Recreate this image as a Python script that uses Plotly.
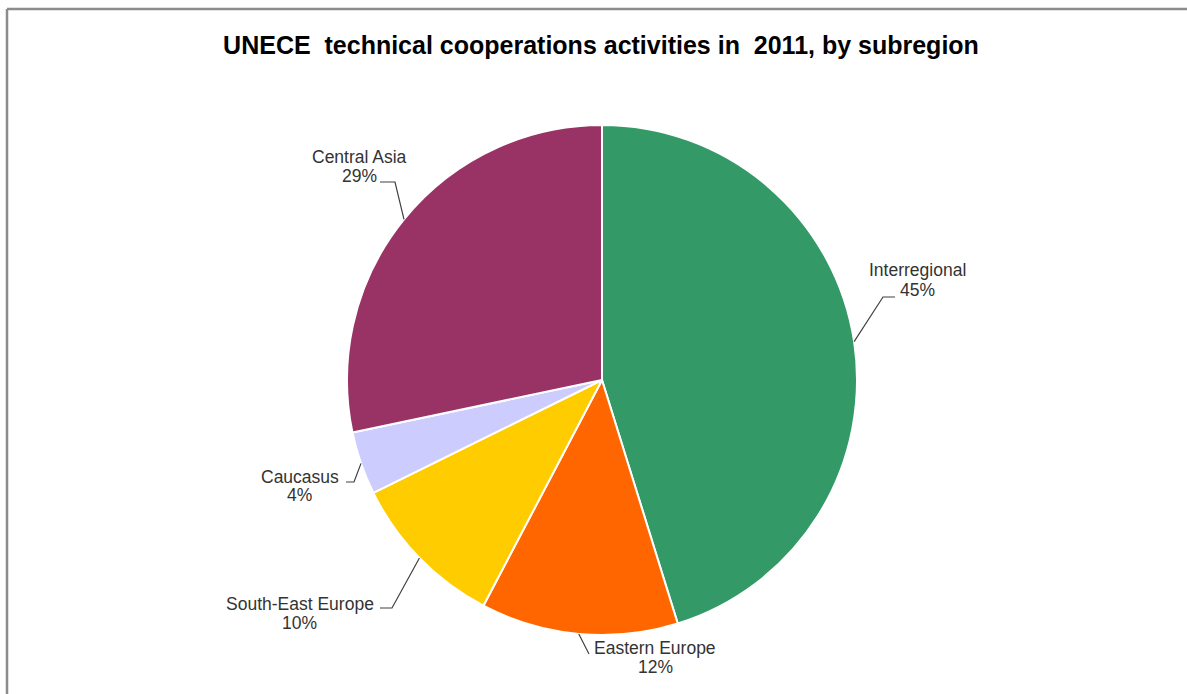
import math
import plotly.graph_objects as go

# ---- data ----
subregions = ["Interregional", "Eastern Europe", "South-East Europe", "Caucasus", "Central Asia"]
shares = [45.2, 12.5, 10.0, 4.0, 28.3]
share_labels = ["45%", "12%", "10%", "4%", "29%"]
colors = ["#339966", "#FF6600", "#FFCC00", "#CCCCFF", "#993366"]
title_text = "UNECE\u00a0 technical cooperations activities in\u00a0 2011, by subregion"

# ---- layout (pixels) ----
W, H = 1187, 694
CX, CY, R = 602, 380, 255
# label line centers and leader elbows/tails (pixels)
label_pos = {
    "Interregional": dict(x=917, y1=270, y2=290, tail=(895, 297), elbow=(883, 297)),
    "Eastern Europe": dict(x=655, y1=648, y2=667, tail=(589, 654), elbow=(589, 654)),
    "South-East Europe": dict(x=300, y1=604, y2=623, tail=(380, 608), elbow=(392, 608)),
    "Caucasus": dict(x=300, y1=477, y2=495, tail=(346, 482), elbow=(354, 482)),
    "Central Asia": dict(x=359, y1=157, y2=176, tail=(380, 182), elbow=(395, 182)),
}
LABEL_FONT = dict(family="Liberation Sans, Arial, sans-serif", size=17.5, color="#333333")

def px(x):
    return x / W

def py(y):
    return 1 - y / H

fig = go.Figure(go.Pie(
    labels=subregions,
    values=shares,
    sort=False,
    direction="clockwise",
    rotation=0,
    marker=dict(colors=colors, line=dict(color="white", width=2)),
    textinfo="none",
    hoverinfo="label+percent",
    showlegend=False,
    domain=dict(x=[px(CX - R), px(CX + R)], y=[py(CY + R), py(CY - R)]),
))

annotations = []
shapes = []
total = sum(shares)
cum = 0.0
for name, v, lab in zip(subregions, shares, share_labels):
    mid = (cum + v / 2) / total * 2 * math.pi
    cum += v
    ex = CX + R * math.sin(mid)
    ey = CY - R * math.cos(mid)
    p = label_pos[name]
    for txt, yy in ((name, p["y1"]), (lab, p["y2"])):
        annotations.append(dict(
            x=px(p["x"]), y=py(yy), xref="paper", yref="paper",
            text=txt, showarrow=False, align="center",
            xanchor="center", yanchor="middle",
            font=LABEL_FONT,
        ))
    tx, ty = p["tail"]
    bx, by = p["elbow"]
    shapes.append(dict(
        type="path", xref="paper", yref="paper",
        path=f"M {px(tx)},{py(ty)} L {px(bx)},{py(by)} L {px(ex)},{py(ey)}",
        line=dict(color="#404040", width=1.2),
    ))

# chart frame (top and left edges visible)
shapes.append(dict(type="line", xref="paper", yref="paper",
                   x0=px(7), x1=1.01, y0=py(9), y1=py(9),
                   line=dict(color="#8c8c8c", width=2.5)))
shapes.append(dict(type="line", xref="paper", yref="paper",
                   x0=px(7), x1=px(7), y0=py(9), y1=-0.01,
                   line=dict(color="#8c8c8c", width=2.5)))

fig.update_layout(
    width=W, height=H,
    margin=dict(l=0, r=0, t=0, b=0),
    paper_bgcolor="white",
    plot_bgcolor="white",
    title=dict(
        text=f"<b>{title_text}</b>",
        x=px(601), xanchor="center",
        y=py(45), yanchor="middle",
        font=dict(family="Liberation Sans, Arial, sans-serif", size=25, color="black"),
    ),
    annotations=annotations,
    shapes=shapes,
)

fig.write_html("out.html", config={"displayModeBar": False},
               post_script="document.body.style.margin='0';document.body.style.overflow='hidden';")
